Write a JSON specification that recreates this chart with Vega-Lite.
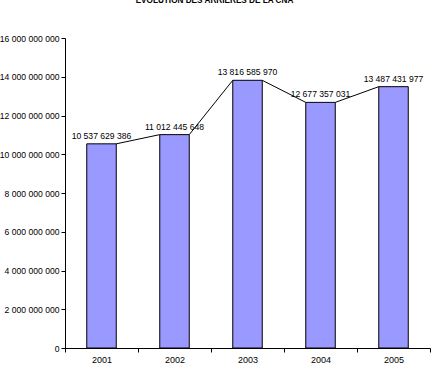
{
  "$schema": "https://vega.github.io/schema/vega-lite/v6.json",
  "width": 365,
  "height": 310,
  "autosize": {"type": "none"},
  "padding": {"left": 65, "top": 38, "right": 1, "bottom": 20},
  "title": {
    "text": "EVOLUTION DES ARRIERES DE LA CNA",
    "font": "Liberation Sans",
    "fontSize": 8.2,
    "fontWeight": "bold",
    "anchor": "middle",
    "dx": -33,
    "offset": 29,
    "color": "black"
  },
  "config": {
    "locale": {"number": {"decimal": ",", "thousands": " ", "grouping": [3], "currency": ["", ""]}},
    "view": {"stroke": null},
    "font": "Liberation Sans",
    "axis": {
      "domainColor": "black",
      "tickColor": "black",
      "labelColor": "black",
      "labelFont": "Liberation Sans",
      "labelFontSize": 8.6,
      "grid": false,
      "title": null
    }
  },
  "data": {
    "values": [
      {"year": "2001", "value": 10537629386},
      {"year": "2002", "value": 11012445648},
      {"year": "2003", "value": 13816585970},
      {"year": "2004", "value": 12677357031},
      {"year": "2005", "value": 13487431977}
    ]
  },
  "encoding": {
    "x": {
      "field": "year",
      "type": "ordinal",
      "scale": {"paddingInner": 0, "paddingOuter": 0},
      "axis": {"labelAngle": 0, "tickBand": "extent", "tickSize": 4, "labelPadding": 3, "labelFontSize": 9}
    },
    "y": {
      "field": "value",
      "type": "quantitative",
      "scale": {"domain": [0, 16000000000], "nice": false},
      "axis": {"values": [0, 2000000000, 4000000000, 6000000000, 8000000000, 10000000000, 12000000000, 14000000000, 16000000000], "format": ",.0f", "tickSize": 4, "labelPadding": 2}
    }
  },
  "layer": [
    {
      "mark": {"type": "bar", "size": 29.5, "fill": "#9999FF", "stroke": "black", "strokeWidth": 1}
    },
    {
      "transform": [
        {"window": [{"op": "lead", "field": "value", "as": "nextValue"}, {"op": "lead", "field": "year", "as": "nextYear"}], "sort": [{"field": "year"}]},
        {"filter": "datum.nextYear != null"}
      ],
      "mark": {"type": "rule", "color": "black", "strokeWidth": 1, "xOffset": 14.75, "x2Offset": -14.75},
      "encoding": {
        "x2": {"field": "nextYear"},
        "y2": {"field": "nextValue"}
      }
    },
    {
      "mark": {"type": "text", "baseline": "bottom", "dy": -3, "fontSize": 8.6, "color": "black"},
      "encoding": {
        "text": {"field": "value", "type": "quantitative", "format": ",.0f"}
      }
    }
  ]
}
